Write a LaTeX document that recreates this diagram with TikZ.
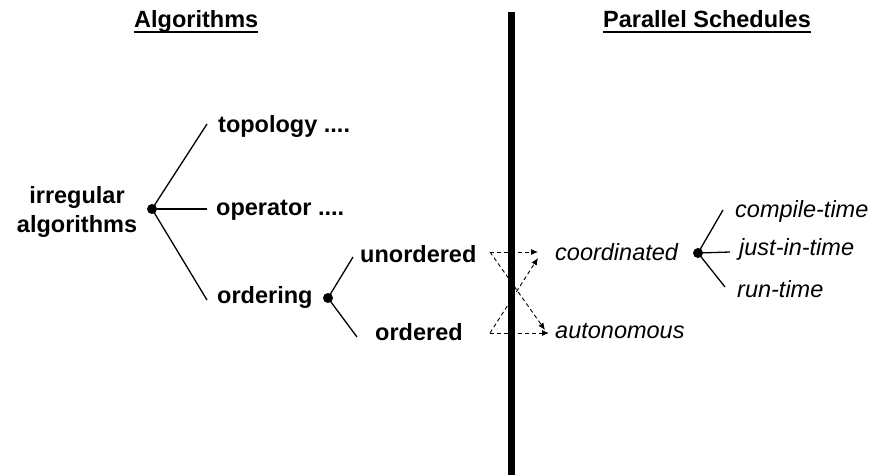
\documentclass[tikz,border=0pt]{standalone}
\usepackage{fontspec}
\setmainfont{Liberation Sans}
\usetikzlibrary{arrows.meta}
\begin{document}
\begin{tikzpicture}[x=1pt,y=-1pt,
  lbl/.style={font=\fontsize{23.5}{29}\selectfont\bfseries, inner sep=0pt, anchor=base west},
  ilbl/.style={font=\fontsize{23.5}{29}\selectfont\itshape, inner sep=0pt, anchor=base west},
  title/.style={font=\fontsize{23.5}{29}\selectfont\bfseries, inner sep=0pt, anchor=base west},
  branch/.style={line width=1.3pt},
  dot/.style={circle, fill, inner sep=0pt, outer sep=0pt, minimum size=10pt},
  flow/.style={line width=0.9pt, dash pattern=on 4pt off 3pt, -{Latex[length=7pt,width=6pt]}},
  uline/.style={line width=2pt}
]
\useasboundingbox (0,0) rectangle (873,475);

% column titles
\node[title] (algt) at (134,27) {Algorithms};
\node[title] (part) at (603,27) {Parallel Schedules};
\draw[uline] ([yshift=-5pt]algt.base west) -- ([yshift=-5pt]algt.base east);
\draw[uline] ([yshift=-5pt]part.base west) -- ([yshift=-5pt]part.base east);

% dividing rule
\coordinate (rtop) at (511.5,12);
\coordinate (rbot) at (511.5,475);
\draw[line width=6.5pt] (rtop) -- (rbot);

% algorithm classification tree
\node[font=\fontsize{23.5}{29}\selectfont\bfseries, inner sep=0pt, align=center, anchor=base] (irr) at (77,232) {irregular\\algorithms};
\coordinate (e1) at (207,124);
\coordinate (e2) at (207,209);
\coordinate (e3) at (207,300);
\node[lbl] (topo) at (218,132) {topology ....};
\node[lbl] (oper) at (216,215) {operator ....};
\node[lbl] (ord) at (217,303) {ordering};
\node[dot] (d1) at (152,209) {};
\draw[branch] (d1.center) -- (e1);
\draw[branch] (d1.center) -- (e2);
\draw[branch] (d1.center) -- (e3);

\node[dot] (d2) at (328,298) {};
\coordinate (e4) at (353,257);
\coordinate (e5) at (357,337);
\node[lbl] (unord) at (360,262) {unordered};
\node[lbl] (orded) at (375,340) {ordered};
\draw[branch] (d2.center) -- (e4);
\draw[branch] (d2.center) -- (e5);

% mapping onto schedules
\coordinate (s1) at (490,252);
\coordinate (s2) at (490,333);
\coordinate (t1) at (538,252);
\coordinate (t2) at (545,330);
\coordinate (t3) at (538,258);
\coordinate (t4) at (549,333);
\draw[flow] (s1) -- (t1);
\draw[flow] (s1) -- (t2);
\draw[flow] (s2) -- (t3);
\draw[flow] (s2) -- (t4);

\node[ilbl] (coord) at (555,260) {coordinated};
\node[ilbl] (auto) at (555,338) {autonomous};

% kinds of coordinated schedules
\node[dot] (d3) at (698,253) {};
\coordinate (e6) at (723,210);
\coordinate (e7) at (730,252);
\coordinate (e8) at (725,287);
\node[ilbl] (comp) at (735,217) {compile-time};
\node[ilbl] (jit) at (739,255) {just-in-time};
\node[ilbl] (run) at (737,297) {run-time};
\draw[branch] (d3.center) -- (e6);
\draw[branch] (d3.center) -- (e7);
\draw[branch] (d3.center) -- (e8);
\end{tikzpicture}
\end{document}
